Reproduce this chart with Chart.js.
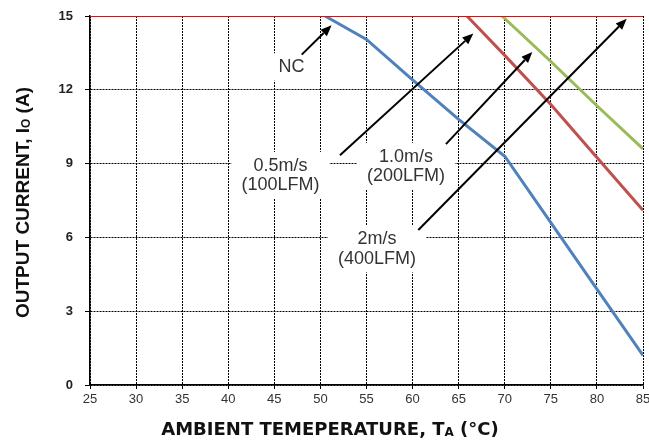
<!DOCTYPE html>
<html>
<head>
<meta charset="utf-8">
<script src="https://cdn.jsdelivr.net/npm/chart.js@4/dist/chart.umd.min.js"></script>
<style>
  html, body { margin: 0; padding: 0; background: #fff; }
  canvas { display: block; }
</style>
</head>
<body>
<canvas id="derating" width="649" height="440"></canvas>
<script>
// Derating curves
const ncTemp = [50.5, 55, 60, 65, 70, 75, 80, 85];
const ncCurrent = [15, 14.05, 12.4, 10.8, 9.3, 6.6, 3.9, 1.2];

const lfm200Temp = [65.9, 70, 75, 80, 85];
const lfm200Current = [15, 13.4, 11.4, 9.25, 7.1];

const lfm400Temp = [69.7, 75, 80, 85];
const lfm400Current = [15, 13.15, 11.35, 9.6];

const limitTemp = [25, 85];
const limitCurrent = [15, 15];

const xTicks = [25, 30, 35, 40, 45, 50, 55, 60, 65, 70, 75, 80, 85];
const yTicks = [0, 3, 6, 9, 12, 15];

// callout labels (data coords of block centre) and arrows (tail -> head)
const noteLabels = [
    { lines: ['NC'], x: 46.86, y: 12.93 },
    { lines: ['0.5m/s', '(100LFM)'], x: 45.67, y: 8.52 },
    { lines: ['1.0m/s', '(200LFM)'], x: 59.28, y: 8.89 },
    { lines: ['2m/s', '(400LFM)'], x: 56.14, y: 5.53 }
];
const noteArrows = [
    [47.97, 13.43, 51.21, 14.62],
    [52.12, 9.34, 66.59, 14.29],
    [63.62, 9.79, 72.99, 13.54],
    [60.62, 6.30, 83.23, 14.89]
];

const toPoints = (xs, ys) => xs.map((x, i) => ({ x: x, y: ys[i] }));

const noteFont = '18px "Liberation Sans", Arial, sans-serif';
const noteLineHeight = 19.5;

const notesPlugin = {
    id: 'notes',
    beforeDatasetsDraw(chart) {
        const { ctx, scales: { x, y } } = chart;
        ctx.save();
        ctx.font = noteFont;
        ctx.fillStyle = '#fff';
        noteLabels.forEach(n => {
            const w = Math.max(...n.lines.map(l => ctx.measureText(l).width)) + 20;
            const h = n.lines.length * noteLineHeight + 8;
            const cx = x.getPixelForValue(n.x);
            const cy = y.getPixelForValue(n.y);
            ctx.fillRect(cx - w / 2, cy - h / 2, w, h);
        });
        ctx.restore();
    },
    afterDatasetsDraw(chart) {
        const { ctx, scales: { x, y } } = chart;
        ctx.save();
        // arrows
        ctx.strokeStyle = '#000';
        ctx.fillStyle = '#000';
        ctx.lineWidth = 2;
        noteArrows.forEach(a => {
            const x1 = x.getPixelForValue(a[0]), y1 = y.getPixelForValue(a[1]);
            const x2 = x.getPixelForValue(a[2]), y2 = y.getPixelForValue(a[3]);
            const ang = Math.atan2(y2 - y1, x2 - x1);
            const len = 11, half = 4.5;
            const bx = x2 - len * Math.cos(ang), by = y2 - len * Math.sin(ang);
            ctx.beginPath();
            ctx.moveTo(x1, y1);
            ctx.lineTo(bx, by);
            ctx.stroke();
            ctx.beginPath();
            ctx.moveTo(x2, y2);
            ctx.lineTo(bx + half * Math.sin(ang), by - half * Math.cos(ang));
            ctx.lineTo(bx - half * Math.sin(ang), by + half * Math.cos(ang));
            ctx.closePath();
            ctx.fill();
        });
        // label text
        ctx.font = noteFont;
        ctx.fillStyle = '#333';
        ctx.textAlign = 'center';
        ctx.textBaseline = 'middle';
        noteLabels.forEach(n => {
            const cx = x.getPixelForValue(n.x);
            const cy = y.getPixelForValue(n.y);
            n.lines.forEach((l, i) => {
                ctx.fillText(l, cx, cy + (i - (n.lines.length - 1) / 2) * noteLineHeight);
            });
        });
        ctx.restore();
    }
};

// draws a title made of pieces, the middle one as a subscript
function drawPieces(ctx, pieces, cx, cy) {
    let total = 0;
    pieces.forEach(p => { ctx.font = p.font; total += ctx.measureText(p.text).width; });
    let pos = cx - total / 2;
    pieces.forEach(p => {
        ctx.font = p.font;
        ctx.fillText(p.text, pos, cy + (p.shift || 0));
        pos += ctx.measureText(p.text).width;
    });
}

const titlesPlugin = {
    id: 'titles',
    afterDraw(chart) {
        const { ctx, chartArea } = chart;
        ctx.save();
        ctx.fillStyle = '#111';
        ctx.textAlign = 'left';
        ctx.textBaseline = 'middle';

        const yBig = 'bold 19px "Liberation Sans", Arial, sans-serif';
        const ySmall = 'bold 12px "Liberation Sans", Arial, sans-serif';
        ctx.save();
        ctx.translate(24, (chartArea.top + chartArea.bottom) / 2 + 2);
        ctx.rotate(-Math.PI / 2);
        drawPieces(ctx, [
            { text: 'OUTPUT CURRENT, I', font: yBig },
            { text: 'O', font: ySmall, shift: 3 },
            { text: ' (A)', font: yBig }
        ], 0, 0);
        ctx.restore();

        const xBig = 'bold 18px "DejaVu Sans", sans-serif';
        const xSmall = 'bold 12px "DejaVu Sans", sans-serif';
        drawPieces(ctx, [
            { text: 'AMBIENT TEMEPERATURE, T', font: xBig },
            { text: 'A', font: xSmall, shift: 3 },
            { text: ' (°C)', font: xBig }
        ], 330, 430);
        ctx.restore();
    }
};

const lineStyle = (color, width) => ({
    borderColor: color,
    backgroundColor: color,
    borderWidth: width,
    pointRadius: 0,
    fill: false,
    tension: 0
});

new Chart(document.getElementById('derating'), {
    type: 'line',
    data: {
        datasets: [
            { label: 'Limit', data: toPoints(limitTemp, limitCurrent), ...lineStyle('#ff0000', 2) },
            { label: 'NC', data: toPoints(ncTemp, ncCurrent), ...lineStyle('#4f81bd', 3) },
            { label: '1.0m/s (200LFM)', data: toPoints(lfm200Temp, lfm200Current), ...lineStyle('#c0504d', 3) },
            { label: '2m/s (400LFM)', data: toPoints(lfm400Temp, lfm400Current), ...lineStyle('#9bbb59', 3) }
        ]
    },
    options: {
        responsive: false,
        devicePixelRatio: 1,
        animation: false,
        layout: { padding: { top: 16, right: 6, left: 0, bottom: 0 } },
        plugins: {
            legend: { display: false },
            tooltip: { enabled: false }
        },
        scales: {
            x: {
                type: 'linear',
                min: 25,
                max: 85,
                afterBuildTicks: s => { s.ticks = xTicks.map(v => ({ value: v })); },
                afterFit: s => { s.height = 55; s.paddingLeft = 0; s.paddingRight = 0; },
                ticks: {
                    color: '#333',
                    font: { family: '"Liberation Sans", Arial, sans-serif', size: 13 },
                    padding: 3,
                    maxRotation: 0
                },
                grid: { color: '#000', lineWidth: 1, tickLength: 4 },
                border: { color: '#000', width: 1.5, dash: [2, 1] }
            },
            y: {
                min: 0,
                max: 15,
                afterBuildTicks: s => { s.ticks = yTicks.map(v => ({ value: v })); },
                afterFit: s => { s.width = 90; s.paddingTop = 0; s.paddingBottom = 0; },
                ticks: {
                    color: '#222',
                    font: { family: '"Liberation Sans", Arial, sans-serif', size: 13, weight: 'bold' },
                    padding: 12
                },
                grid: { color: '#000', lineWidth: 1, tickLength: 5 },
                border: { color: '#000', width: 1.5, dash: [2, 1] }
            }
        }
    },
    plugins: [notesPlugin, titlesPlugin]
});
</script>
</body>
</html>
